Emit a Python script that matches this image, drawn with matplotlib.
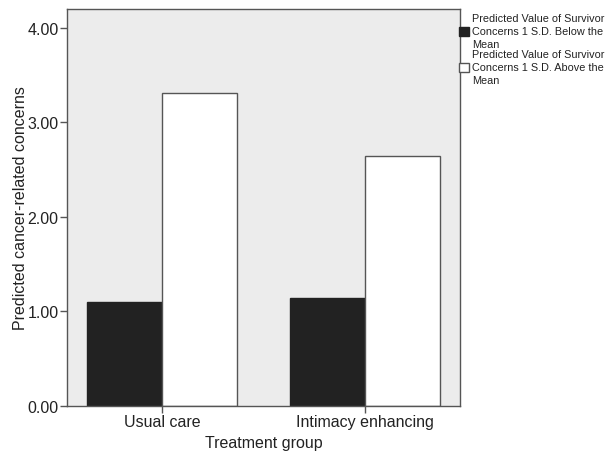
import matplotlib
matplotlib.use("Agg")
import matplotlib.pyplot as plt
import numpy as np
from matplotlib.patches import Patch

plt.rcParams['font.family'] = ['Liberation Sans', 'DejaVu Sans']

categories = ["Usual care", "Intimacy enhancing"]
below_mean = [1.10, 1.14]
above_mean = [3.31, 2.65]
series_labels = ["Predicted Value of Survivor\nConcerns 1 S.D. Below the\nMean",
                 "Predicted Value of Survivor\nConcerns 1 S.D. Above the\nMean"]
yticks = [0, 1, 2, 3, 4]

fig = plt.figure(figsize=(6.11, 4.56), dpi=100)
ax = fig.add_axes([0.1097, 0.1075, 0.6432, 0.8705])
ax.set_facecolor('#ececec')
x = np.arange(len(categories))
w = 0.37
ax.bar(x - w/2, below_mean, w, color='#222222', edgecolor='#222222', linewidth=1.0)
ax.bar(x + w/2, above_mean, w, color='white', edgecolor='#555555', linewidth=1.0)
ax.set_xlim(-0.468, 1.468)
ax.set_ylim(0, 4.2)
ax.set_yticks(yticks)
ax.set_yticklabels([f"{v:.2f}" for v in yticks], fontsize=11.5, color='#222222')
ax.set_xticks(x)
ax.set_xticklabels(categories, fontsize=11.5, color='#222222')
ax.tick_params(axis='y', direction='out', length=5, width=1, color='#555555', pad=1)
ax.tick_params(axis='x', direction='out', length=5, width=1, color='#555555', pad=1)
for s in ax.spines.values():
    s.set_color('#555555')
    s.set_linewidth(1.0)
ax.set_xlabel("Treatment group", fontsize=11.5, color='#222222', labelpad=4)
ax.set_ylabel("Predicted cancer-related concerns", fontsize=11.5, color='#222222')
ax.yaxis.set_label_coords(-0.1, 0.5)

handles = [Patch(facecolor='#222222', edgecolor='#222222'),
           Patch(facecolor='white', edgecolor='#555555')]
leg = fig.legend(handles, series_labels, loc='upper left', bbox_to_anchor=(0.752, 0.970),
                 frameon=False, fontsize=7.8, handlelength=0.9, handleheight=0.9,
                 handletextpad=0.25, borderpad=0, borderaxespad=0, labelspacing=0.0)
for t in leg.get_texts():
    t.set_color('#222222')
    t.set_linespacing(1.4)

fig.savefig("out.png", dpi=100)
